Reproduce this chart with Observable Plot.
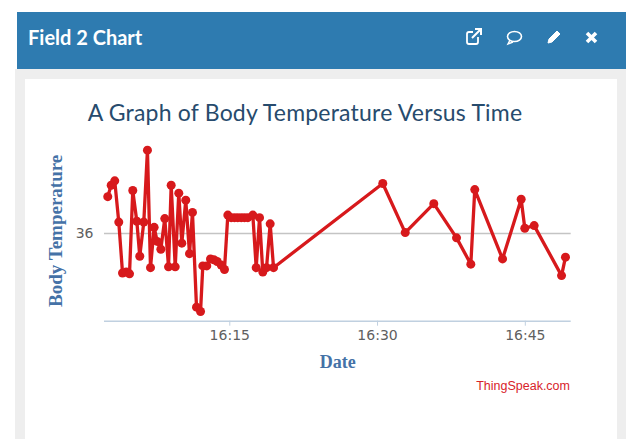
<!DOCTYPE html>
<html>
<head>
<meta charset="utf-8">
<script src="https://cdn.jsdelivr.net/npm/d3@7"></script>
<script src="https://cdn.jsdelivr.net/npm/@observablehq/plot@0.6"></script>
<style>
html,body{margin:0;padding:0;background:#fff;}
#page{position:relative;width:626px;height:439px;overflow:hidden;background:#fff;}
#panel{position:absolute;left:15px;top:69px;right:0;bottom:0;background:#eeeeee;}
#head{position:absolute;left:17px;top:12px;right:0;height:57px;background:#2e7bb0;}
#card{position:absolute;left:25px;top:79px;width:592px;height:360px;background:#fff;}
#headtitle{position:absolute;left:28px;top:25px;font:700 20px Lato,sans-serif;color:#fff;}
#title{position:absolute;left:0;width:610px;top:98px;text-align:center;font:400 23px Lato,sans-serif;color:#274b6d;letter-spacing:.2px;}
#credit{position:absolute;right:56px;top:379px;font:12.5px "Liberation Sans",sans-serif;color:#d8232a;}
#chart{position:absolute;left:0;top:0;}
#icons{position:absolute;left:0;top:0;}
</style>
</head>
<body>
<div id="page">
  <div id="panel"></div>
  <div id="head"></div>
  <div id="card"></div>
  <div id="headtitle">Field 2 Chart</div>
  <div id="title">A Graph of Body Temperature Versus Time</div>
  <div id="chart"></div>
  <div id="credit">ThingSpeak.com</div>
  <svg id="icons" width="626" height="70" fill="none" stroke="#fff">
    <path d="M478 37v5a2 2 0 0 1-2 2h-7a2 2 0 0 1-2-2v-8a2 2 0 0 1 2-2h4" stroke-width="1.8"/>
    <path d="M472 38l8-8M475 29h6v6" stroke-width="2"/>
    <ellipse cx="514.5" cy="36.5" rx="7" ry="5" stroke-width="1.6"/>
    <path d="M510 40l-2 4 5-2" stroke-width="1.4"/>
    <path d="M548 43l1-4 8-8 3 3-8 8z" fill="#fff" stroke-width="1"/>
    <path d="M587 33l9 9M596 33l-9 9" stroke-width="3.6"/>
  </svg>
</div>
<script>
const minutes = [2.61,2.96,3.32,3.73,4.11,4.48,4.82,5.15,5.56,5.86,6.27,6.64,6.95,7.32,7.63,8.0,8.4,8.78,9.05,9.46,9.82,10.13,10.53,10.91,11.21,11.62,12.03,12.26,12.66,13.04,13.38,13.72,14.13,14.46,14.8,15.14,15.48,15.81,16.16,16.49,16.83,17.34,17.68,18.02,18.35,18.73,19.1,19.44,30.53,32.81,35.71,38.02,39.47,39.87,42.69,44.58,44.95,45.9,48.68,49.08];
const temps = [36.42,36.55,36.60,36.13,35.55,35.56,35.54,36.49,36.14,35.74,36.13,36.95,35.61,36.07,35.91,35.82,36.17,35.62,36.55,35.62,36.46,35.89,36.38,35.77,36.24,35.16,35.11,35.63,35.63,35.71,35.70,35.68,35.64,35.59,36.21,36.18,36.18,36.18,36.18,36.18,36.18,36.21,35.61,36.18,35.56,35.61,36.11,35.61,36.57,36.01,36.34,35.95,35.65,36.50,35.71,36.39,36.06,36.09,35.52,35.73];
const xTicks = [15,30,45];
const yTicks = [36];
const t = m => new Date(Date.UTC(2018,0,1,16,0,0) + m*60000);
const rows = minutes.map((m,i)=>({time:t(m),temp:temps[i]}));
const labelFont = {fontFamily:"'Liberation Serif',serif",fontWeight:"bold",fill:"#4572a7",textAnchor:"middle"};
const plot = Plot.plot({
  width:626,height:439,
  marginLeft:104,marginRight:55.3,marginTop:140,marginBottom:118.3,
  style:{background:"transparent",fontFamily:"'DejaVu Sans',sans-serif",fontSize:"14px"},
  x:{type:"utc",domain:[t(2.28),t(49.66)]},
  y:{domain:[35,37.06]},
  marks:[
    Plot.ruleY(yTicks,{stroke:"#c4c4c4",strokeWidth:1.6}),
    Plot.ruleY([35],{stroke:"#c0d0e0",strokeWidth:1.6}),
    Plot.axisX({ticks:xTicks.map(t),tickFormat:d3.utcFormat("%H:%M"),tickSize:5,tickPadding:4,stroke:"#c0d0e0",color:"#606060",label:null}),
    Plot.axisY({ticks:yTicks,tickFormat:d=>d,tickSize:0,tickPadding:11,color:"#606060",label:null}),
    Plot.line(rows,{x:"time",y:"temp",stroke:"#d7191c",strokeWidth:3.3}),
    Plot.dot(rows,{x:"time",y:"temp",r:4.5,fill:"#d7191c",stroke:"none"}),
    Plot.text(["Date"],{frameAnchor:"bottom",dy:47,fontSize:18,...labelFont}),
    Plot.text(["Body Temperature"],{frameAnchor:"left",dx:-49,rotate:-90,fontSize:19,...labelFont})
  ]
});
document.getElementById("chart").appendChild(plot);
</script>
</body>
</html>
